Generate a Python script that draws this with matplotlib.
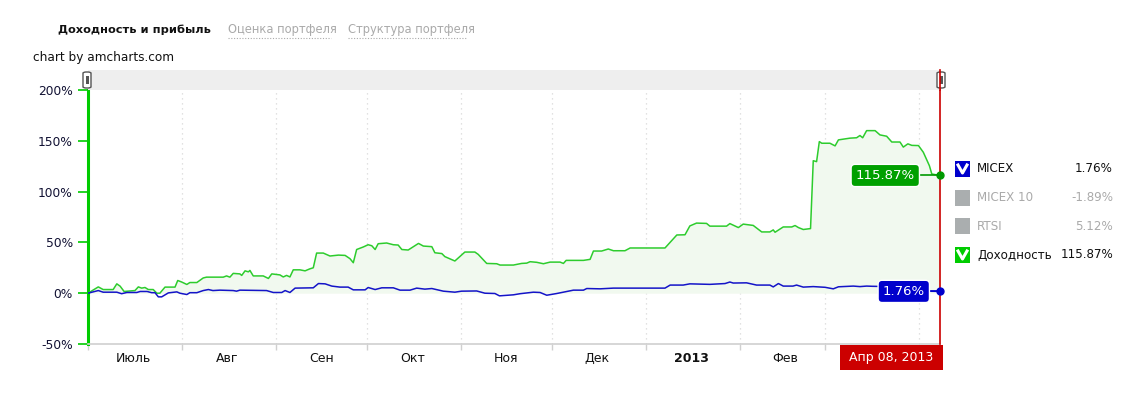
import matplotlib
matplotlib.use("Agg")
import matplotlib.pyplot as plt
from matplotlib.patches import Rectangle, FancyBboxPatch
from matplotlib.lines import Line2D
import pandas as pd

# --- данные (дни от 2012-07-01, проценты) ---
start_date = pd.Timestamp("2012-07-01")
end_date = pd.Timestamp("2013-04-08")

income_days = [0, 3.4, 5, 8.3, 9.5, 10.6, 11.9, 15.5, 16.6, 17.7, 18.8, 19.9, 21.5, 22.7, 23.7,
               25.4, 28.7, 29.6, 30.9, 32.6, 33.6, 35.9, 38, 39.1, 44.6, 45.7, 46.8, 47.9, 50.1,
               50.7, 51.8, 52.9, 53.4, 54.5, 57.8, 59.5, 60.6, 63.3, 64.4, 65.5, 66.6, 67.7, 69.9,
               71.6, 73.2, 74.3, 75.4, 77.6, 79.8, 82.6, 84.8, 86.4, 87.5, 88.6, 90.8, 92.4, 93.6,
               94.7, 95.7, 98.5, 100.7, 102.3, 103.5, 105.6, 109, 110.6, 113.4, 114.4, 116.7,
               117.7, 121, 124.3, 127.6, 128.7, 131.5, 134.8, 135.9, 140.3, 143, 144.7, 145.8,
               148, 150.2, 152.4, 155.7, 156.8, 157.7, 163.4, 165.6, 166.7, 169.4, 171.6, 173.3,
               177.1, 178.8, 190.3, 194.2, 196.9, 198.5, 200.7, 204, 205.1, 210.6, 211.7, 214.5,
               216.1, 219.4, 222.2, 224.9, 226, 226.6, 229.3, 232.1, 233.2, 234.3, 235.9, 238.3,
               239.2, 240.3, 241.2, 242, 244.7, 246.4, 247.5, 251.3, 253.5, 254.6, 255.5, 256.8,
               259.6, 261.2, 263.4, 265.1, 267.8, 268.9, 270.4, 271.7, 273.9, 275.5, 277.5,
               278.3, 281]
income_vals = [0, 6.2, 3.6, 3.6, 9.2, 6.9, 1.7, 2.6, 6.2, 5, 5.6, 3.6, 3.6, 0, 0,
               6, 6, 12.5, 11, 8.6, 10.5, 10.5, 15, 15.8, 15.8, 17, 15.8, 19.5, 19,
               17.5, 22, 21, 22.4, 17, 17, 14.5, 19, 18, 16, 17.5, 16, 23, 23,
               22, 24, 25, 39.5, 39.5, 36.6, 37.5, 37.2, 34, 30, 43, 45.5, 47.7, 46.7,
               43, 48.7, 49.4, 47.7, 47.4, 43, 42.5, 49, 46.4, 45.8, 39.8, 39,
               36, 31.7, 40.5, 40.5, 38.2, 29.3, 29, 27.7, 27.7, 29.3, 29.6, 31,
               30.4, 29, 30.6, 30.6, 29.3, 32.3, 32.3, 33.3, 41.5, 41.5, 43.5, 41.8,
               41.8, 44.5, 44.5, 57.3, 57.5, 66.2, 69, 68.7, 66, 66, 68.5, 64.6,
               68, 66.7, 60.3, 60.3, 62.3, 60, 65.2, 65.2, 66.6, 64.6, 62.7, 63.6,
               130.4, 129.5, 149.2, 147.6, 147.6, 145, 150.9, 152.6, 153, 155.2, 153, 160,
               160, 155.8, 154.5, 148.8, 148.8, 143.8, 147, 145.5, 145.3, 138.7, 125.5,
               117.3, 115.87]

micex_days = [0, 3.4, 5, 9.5, 11.1, 12.8, 16.1, 17.2, 19.5, 21, 22.1, 23.2, 24.3, 26.5, 29.3,
              30.3, 32.6, 33.6, 35.9, 38, 39.7, 41.2, 43.5, 47.9, 49, 50.1, 58.9, 61.1, 63.9,
              65, 66.6, 68.3, 74.3, 76, 78.2, 80.4, 83.1, 85.8, 87.5, 91.4, 92.4, 94.7, 96.9,
              100.7, 102.9, 106.2, 108.4, 111.1, 113.4, 117.2, 121, 123.2, 128.2, 130.9, 134.2,
              135.7, 140.3, 142.5, 146.9, 149.1, 151.3, 154.6, 160.1, 163.4, 164.5, 168.9,
              173.3, 190.3, 192, 196.3, 198.5, 205.1, 210.1, 211.7, 212.8, 217.2, 220.5, 224.9,
              226, 227.7, 229.3, 232.5, 233.7, 235.9, 239.2, 243.1, 245.8, 247.5, 252.4, 254.6,
              256.8, 258.6, 272.8, 276.1, 281]
micex_vals = [0, 2.6, 1, 1, -0.5, 0.7, 0.7, 1.7, 1.7, 0.5, 0.5, -3.6, -3.6, 0.3, 1.3,
              0, -1.3, 0.5, 0.5, 2.6, 3.6, 2.6, 3, 2.6, 2, 3, 2.6, 0.7, 0.7,
              2.6, 0.7, 5, 5.3, 9.5, 9.2, 7, 6, 6, 3.3, 3.3, 5.6, 3.6, 5.3,
              5.3, 3, 3, 5, 4, 4.6, 2, 1, 2, 2.2, 0, -0.3,
              -2.6, -1.6, -0.5, 1, 0.7, -2, -0.3, 3, 3, 4.6, 4.3,
              5, 5, 8, 8, 9.2, 8.7, 9.5, 11, 10, 10.2, 8, 8,
              6.2, 9.5, 7, 7, 8, 6, 6.5, 5.8, 4.3, 6.3, 7, 6.5,
              7, 6.8, 6, 2, 1.76]

y_ticks = [-50, 0, 50, 100, 150, 200]
month_labels = ["Июль", "Авг", "Сен", "Окт", "Ноя", "Дек", "2013", "Фев"]
legend_names = ["MICEX", "MICEX 10", "RTSI", "Доходность"]
legend_values = ["1.76%", "-1.89%", "5.12%", "115.87%"]
legend_active = [True, False, False, True]
legend_colors = ["#0000cc", "#aaaeaf", "#aaaeaf", "#00cc00"]
tabs = ["Доходность и прибыль", "Оценка портфеля", "Структура портфеля"]
cursor_label = "Апр 08, 2013"

W, H = 1147, 394


def fx(px):
    return px / W


def fy(py):
    return 1 - py / H


income_dates = start_date + pd.to_timedelta(income_days, unit="D")
micex_dates = start_date + pd.to_timedelta(micex_days, unit="D")

fig = plt.figure(figsize=(W / 100, H / 100), dpi=100)
fig.patch.set_facecolor("white")

ax = fig.add_axes([fx(88), fy(344), fx(940) - fx(88), fy(90) - fy(344)])
ax.set_xlim(start_date, end_date)
ax.set_ylim(-50, 200)

green = "#2dcc2d"
blue = "#1414c8"
ax.fill_between(income_dates, income_vals, 0, color="#f1f9ef", lw=0, zorder=1)
ax.plot(income_dates, income_vals, color=green, lw=1.1, zorder=3)
ax.plot(micex_dates, micex_vals, color=blue, lw=1.1, zorder=3)

# оси
for s in ["top", "right"]:
    ax.spines[s].set_visible(False)
ax.spines["left"].set_color("#00cc00")
ax.spines["left"].set_linewidth(2.2)
ax.spines["bottom"].set_color("#d0d0d0")
ax.spines["bottom"].set_linewidth(1.2)

ax.set_yticks(y_ticks)
ax.set_yticklabels([f"{v}%" for v in y_ticks], fontsize=8.8)
ax.tick_params(axis="y", colors="#00cc00", length=7, width=1.2, pad=4, labelcolor="#111133")

month_starts = pd.date_range("2012-07-01", "2013-04-01", freq="MS")
ax.set_xticks(month_starts)
ax.set_xticklabels([""] * len(month_starts))
ax.tick_params(axis="x", which="major", colors="#d0d0d0", length=4, width=1)
# подпись марта закрыта плашкой курсора
mid_months = month_starts[:len(month_labels)] + pd.Timedelta(days=15)
ax.set_xticks(mid_months, minor=True)
ax.set_xticklabels(month_labels, minor=True, fontsize=9, color="#111111")
ax.tick_params(axis="x", which="minor", length=0, pad=6)
for lbl in ax.get_xticklabels(minor=True):
    if lbl.get_text() == "2013":
        lbl.set_fontweight("bold")

for d in month_starts[1:]:
    ax.axvline(d, color="#d8d8d8", lw=0.9, ls=(0, (1, 3)), zorder=0)

# курсор
ax.axvline(end_date, color="#cc0000", lw=1.2, zorder=5, clip_on=False)
fig.add_artist(Line2D([fx(940), fx(940)], [fy(70), fy(90)], color="#cc0000", lw=1.2))
fig.add_artist(Rectangle((fx(840), fy(370)), fx(943) - fx(840), fy(345) - fy(370),
                         facecolor="#cc0000", edgecolor="none"))
fig.text(fx(891), fy(357), cursor_label, color="white", fontsize=9, ha="center", va="center")

# подписи значений
ax.plot([end_date], [income_vals[-1]], "o", color="#009900", ms=5, zorder=6, clip_on=False)
ax.plot([end_date], [micex_vals[-1]], "o", color="#0000cc", ms=5, zorder=6, clip_on=False)
ax.plot([end_date - pd.Timedelta(days=7), end_date], [income_vals[-1]] * 2, color="#009900", lw=1.2, zorder=5)
ax.plot([end_date - pd.Timedelta(days=4), end_date], [micex_vals[-1]] * 2, color="#0000cc", lw=1.2, zorder=5)
ax.text(end_date - pd.Timedelta(days=8.3), income_vals[-1], "115.87%", color="white", fontsize=9.5,
        ha="right", va="center", zorder=7,
        bbox=dict(boxstyle="round,pad=0.35,rounding_size=0.3", fc="#00a000", ec="white", lw=1))
ax.text(end_date - pd.Timedelta(days=5), micex_vals[-1], "1.76%", color="white", fontsize=9.5,
        ha="right", va="center", zorder=7,
        bbox=dict(boxstyle="round,pad=0.35,rounding_size=0.3", fc="#0000cc", ec="white", lw=1))

# скроллбар
fig.add_artist(Rectangle((fx(88), fy(90)), fx(940) - fx(88), fy(70) - fy(90),
                         facecolor="#eeeeee", edgecolor="none"))
for hx in [87, 941]:
    fig.add_artist(FancyBboxPatch((fx(hx - 4), fy(88)), fx(8), fy(72) - fy(88),
                                  boxstyle="round,pad=0,rounding_size=0.003",
                                  facecolor="white", edgecolor="#555555", lw=1))
    fig.add_artist(Rectangle((fx(hx - 1.5), fy(84)), fx(3), fy(76) - fy(84),
                             facecolor="#555555", edgecolor="none"))

# легенда
rows_y = [169, 198, 226, 255]
for name, val, active, col, ry in zip(legend_names, legend_values, legend_active, legend_colors, rows_y):
    fig.add_artist(Rectangle((fx(955), fy(ry + 8)), fx(15), fy(ry - 8) - fy(ry + 8),
                             facecolor=col, edgecolor="none"))
    if active:
        fig.add_artist(Line2D([fx(958), fx(962.5), fx(967)], [fy(ry - 4), fy(ry + 4), fy(ry - 4)],
                              color="white", lw=2.2))
    tcol = "#111111" if active else "#aaaaaa"
    fig.text(fx(977), fy(ry), name, fontsize=8.6, color=tcol, va="center", ha="left")
    fig.text(fx(1113), fy(ry), val, fontsize=8.6, color=tcol, va="center", ha="right")

# вкладки
fig.text(fx(58), fy(30), tabs[0], fontsize=8.2, fontweight="bold", color="#111111", va="center")
for t, tx0, tx1 in [(tabs[1], 228, 331), (tabs[2], 348, 467)]:
    fig.text(fx(tx0), fy(30), t, fontsize=8.3, color="#aaaaaa", va="center")
    fig.add_artist(Line2D([fx(tx0), fx(tx1)], [fy(38), fy(38)], color="#aaaaaa", lw=0.8, ls=(0, (1, 1.5))))

fig.text(fx(33), fy(58), "chart by amcharts.com", fontsize=8.7, color="#111111", va="center")

fig.savefig("out.png", dpi=100)
